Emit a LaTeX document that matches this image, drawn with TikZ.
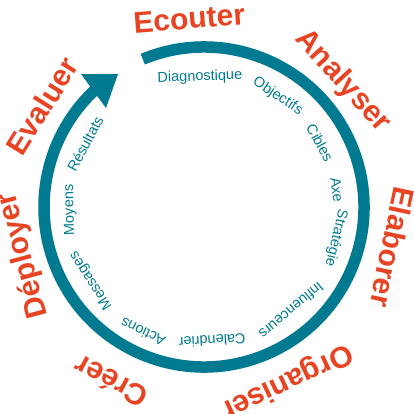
\documentclass[tikz,border=0pt]{standalone}
\usepackage{fontspec}
\setmainfont{Liberation Sans}
\definecolor{ringteal}{RGB}{0,122,145}
\definecolor{stepred}{RGB}{232,68,35}
\tikzset{
  outerlbl/.style={font=\fontsize{30}{36}\selectfont\bfseries, text=stepred, inner sep=0pt},
  innerlbl/.style={font=\fontsize{14.5}{17}\selectfont, text=ringteal, inner sep=0pt},
  ringarc/.style={draw=ringteal, line width=11.5pt},
  ringhead/.style={fill=ringteal, draw=none}
}
\begin{document}
\begin{tikzpicture}[x=1pt,y=1pt]
\useasboundingbox (-204,-206) rectangle (210,207);
\coordinate (c) at (0,0);
% ring with arrow
\draw[ringarc] (112.5:160) arc[start angle=112.5, end angle=-227, radius=160];
\coordinate (hA) at (-123,133);
\coordinate (hB) at (-86,133);
\coordinate (hC) at (-98,99);
\fill[ringhead] (hA) -- (hB) -- (hC) -- cycle;
% outer labels
\node[outerlbl, rotate=4.5]    (ecouter)   at (94.5:189)  {Ecouter};
\node[outerlbl, rotate=-47.8]  (analyser)  at (42.2:187)  {Analyser};
\node[outerlbl, rotate=-102]   (elaborer)  at (-12:193)   {Elaborer};
\node[outerlbl, rotate=-154.6] (organiser) at (-64.6:193) {Organiser};
\node[outerlbl, rotate=152]    (creer)     at (-118:198)  {Créer};
\node[outerlbl, rotate=105]    (deployer)  at (195:187)   {Déployer};
\node[outerlbl, rotate=58]     (evaluer)   at (148:191)   {Evaluer};
% inner labels
\node[innerlbl, rotate=1.8]    (diag)   at (91.8:130)  {Diagnostique};
\node[innerlbl, rotate=-33.7]  (obj)    at (56.3:133)  {Objectifs};
\node[innerlbl, rotate=-61.1]  (cib)    at (28.9:132.5) {Cibles};
\node[innerlbl, rotate=-82.7]  (axe)    at (7.3:134)   {Axe};
\node[innerlbl, rotate=-103.2] (strat)  at (-13.2:135.6) {Stratégie};
\node[innerlbl, rotate=-139.8] (infl)   at (-49.8:135.5) {Influenceurs};
\node[innerlbl, rotate=-176.5] (cal)    at (-86.5:134) {Calendrier};
\node[innerlbl, rotate=154]    (act)    at (-116:139)  {Actions};
\node[innerlbl, rotate=123]    (mess)   at (213:134.5) {Messages};
\node[innerlbl, rotate=91.3]   (moy)    at (181.3:134) {Moyens};
\node[innerlbl, rotate=62]     (res)    at (152:134.6) {Résultats};
\end{tikzpicture}
\end{document}
